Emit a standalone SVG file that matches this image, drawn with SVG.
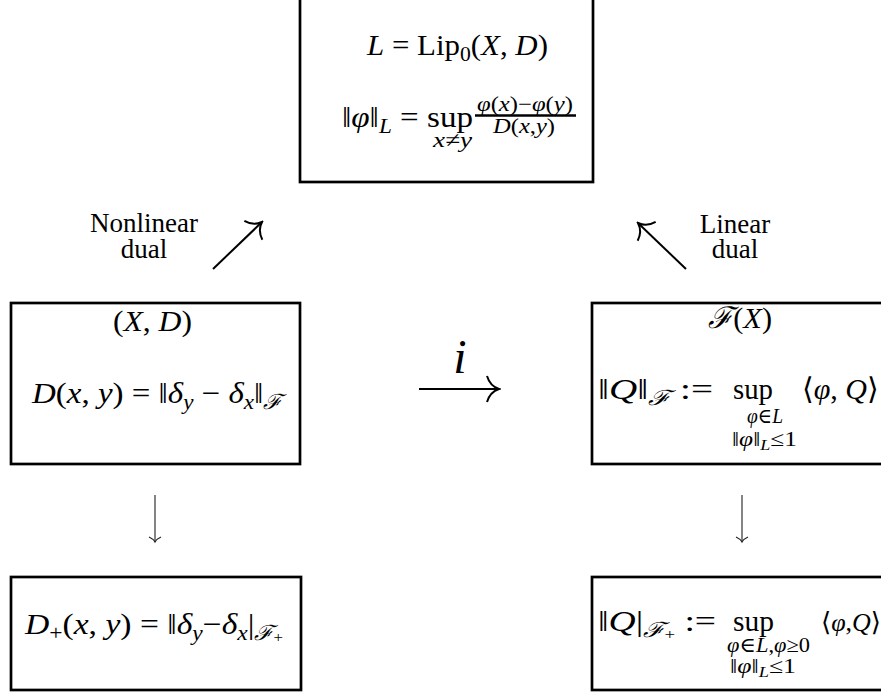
<svg xmlns="http://www.w3.org/2000/svg" width="881" height="694" viewBox="0 0 881 694">
<style>
.box{fill:#fff;stroke:#000;stroke-width:2.7}
text{font-family:"Liberation Serif","DejaVu Serif",serif;fill:#000}
.m{font-size:30px}
.s{font-size:21px}
.ss{font-size:15px}
.lbl{font-size:27px;text-anchor:middle}
.i{font-style:italic}
.p{font-family:"Liberation Serif",serif;font-style:italic}
.cal{font-family:"DejaVu Serif","Liberation Serif",serif;font-style:italic}
.arr{stroke:#000;stroke-width:2;fill:none}
.thin{stroke:#333;stroke-width:1.2;fill:none}
</style>
<defs>
<marker id="ah" viewBox="-14 -15 16 30" markerWidth="16" markerHeight="30" refX="0" refY="0" orient="auto" markerUnits="userSpaceOnUse">
<path d="M-12,-13 Q-9,-3 0,0 Q-9,3 -12,13" fill="none" stroke="#000" stroke-width="2"/>
</marker>
<marker id="ah2" viewBox="-8 -8 10 16" markerWidth="10" markerHeight="16" refX="0" refY="0" orient="auto" markerUnits="userSpaceOnUse">
<path d="M-5,-6 Q-3,-1.5 0,0 Q-3,1.5 -5,6" fill="none" stroke="#222" stroke-width="1.2"/>
</marker>
</defs>
<rect width="881" height="694" fill="#fff"/>

<g id="lip">
<rect class="box" x="300" y="-2" width="293" height="184"/>
<text class="m" x="367" y="55" textLength="181" lengthAdjust="spacingAndGlyphs"><tspan class="i">L</tspan> = Lip<tspan class="s" dy="6">0</tspan><tspan dy="-6">(</tspan><tspan class="i">X</tspan>, <tspan class="i">D</tspan>)</text>
<text class="m" x="342" y="127" textLength="131" lengthAdjust="spacingAndGlyphs">‖<tspan class="p">φ</tspan>‖<tspan class="s i" dy="6">L</tspan><tspan dy="-6"> = sup</tspan></text>
<text class="s i" x="433" y="147" textLength="39" lengthAdjust="spacingAndGlyphs">x≠y</text>
<line x1="475" y1="115.5" x2="576" y2="115.5" stroke="#000" stroke-width="2.5"/>
<text class="s" x="477" y="111" textLength="96" lengthAdjust="spacingAndGlyphs"><tspan class="p">φ</tspan>(<tspan class="i">x</tspan>)−<tspan class="p">φ</tspan>(<tspan class="i">y</tspan>)</text>
<text class="s" x="493" y="133" textLength="62" lengthAdjust="spacingAndGlyphs"><tspan class="i">D</tspan>(<tspan class="i">x</tspan>,<tspan class="i">y</tspan>)</text>
</g>

<g id="metric">
<rect class="box" x="11" y="303" width="289" height="161"/>
<text class="m" x="113" y="331" textLength="79" lengthAdjust="spacingAndGlyphs">(<tspan class="i">X</tspan>, <tspan class="i">D</tspan>)</text>
<text class="m" x="32" y="403" textLength="250" lengthAdjust="spacingAndGlyphs"><tspan class="i">D</tspan>(<tspan class="i">x</tspan>, <tspan class="i">y</tspan>) = ‖<tspan class="i">δ</tspan><tspan class="s i" dy="6">y</tspan><tspan dy="-6"> − </tspan><tspan class="i">δ</tspan><tspan class="s i" dy="6">x</tspan><tspan dy="-6">‖</tspan><tspan class="s cal" dy="6">ℱ</tspan></text>
</g>

<g id="free">
<rect class="box" x="592" y="303" width="300" height="161"/>
<text class="m" x="708" y="328" textLength="64" lengthAdjust="spacingAndGlyphs"><tspan class="cal">ℱ</tspan>(<tspan class="i">X</tspan>)</text>
<text class="m" x="598" y="399" textLength="115" lengthAdjust="spacingAndGlyphs">‖<tspan class="i">Q</tspan>‖<tspan class="s cal" dy="6">ℱ</tspan><tspan dy="-6"> :=</tspan></text>
<text class="m" x="733" y="399" textLength="40" lengthAdjust="spacingAndGlyphs">sup</text>
<text class="m" x="802" y="399">⟨<tspan class="p">φ</tspan>, <tspan class="i">Q</tspan>⟩</text>
<text class="s" x="747" y="423" textLength="36" lengthAdjust="spacingAndGlyphs"><tspan class="p">φ</tspan>∈<tspan class="i">L</tspan></text>
<text class="s" x="732" y="446" textLength="65" lengthAdjust="spacingAndGlyphs">‖<tspan class="p">φ</tspan>‖<tspan class="ss i" dy="4">L</tspan><tspan dy="-4">≤1</tspan></text>
</g>

<g id="metricplus">
<rect class="box" x="11" y="577" width="290" height="113"/>
<text class="m" x="25" y="634" textLength="258" lengthAdjust="spacingAndGlyphs"><tspan class="i">D</tspan><tspan class="s" dy="6">+</tspan><tspan dy="-6">(</tspan><tspan class="i">x</tspan>, <tspan class="i">y</tspan>) = ‖<tspan class="i">δ</tspan><tspan class="s i" dy="6">y</tspan><tspan dy="-6">−</tspan><tspan class="i">δ</tspan><tspan class="s i" dy="6">x</tspan><tspan dy="-6">|</tspan><tspan class="s cal" dy="6">ℱ</tspan><tspan class="ss" dy="2">+</tspan></text>
</g>

<g id="freeplus">
<rect class="box" x="592" y="577" width="300" height="113"/>
<text class="m" x="598" y="631" textLength="118" lengthAdjust="spacingAndGlyphs">‖<tspan class="i">Q</tspan>|<tspan class="s cal" dy="6">ℱ</tspan><tspan class="ss" dy="2">+</tspan><tspan dy="-8"> :=</tspan></text>
<text class="m" x="733" y="631" textLength="41" lengthAdjust="spacingAndGlyphs">sup</text>
<text font-size="26" x="821" y="631">⟨<tspan class="p">φ</tspan>,<tspan class="i">Q</tspan>⟩</text>
<text class="s" x="727" y="652" textLength="83" lengthAdjust="spacingAndGlyphs"><tspan class="p">φ</tspan>∈<tspan class="i">L</tspan>,<tspan class="p">φ</tspan>≥0</text>
<text class="s" x="730" y="673" textLength="66" lengthAdjust="spacingAndGlyphs">‖<tspan class="p">φ</tspan>‖<tspan class="ss i" dy="4">L</tspan><tspan dy="-4">≤1</tspan></text>
</g>

<g id="connectors">
<line class="arr" x1="213" y1="269" x2="262" y2="222" marker-end="url(#ah)"/>
<line class="arr" x1="686" y1="269" x2="638" y2="223" marker-end="url(#ah)"/>
<line class="arr" x1="419" y1="389" x2="499" y2="389" marker-end="url(#ah)"/>
<line class="thin" x1="155" y1="495" x2="155" y2="542" marker-end="url(#ah2)"/>
<line class="thin" x1="742" y1="495" x2="742" y2="542" marker-end="url(#ah2)"/>
<text class="lbl" x="144" y="232">Nonlinear</text>
<text class="lbl" x="144" y="258">dual</text>
<text class="lbl" x="735" y="233">Linear</text>
<text class="lbl" x="735" y="258">dual</text>
<text class="i" font-size="48" x="460" y="373" text-anchor="middle">i</text>
</g>
</svg>
